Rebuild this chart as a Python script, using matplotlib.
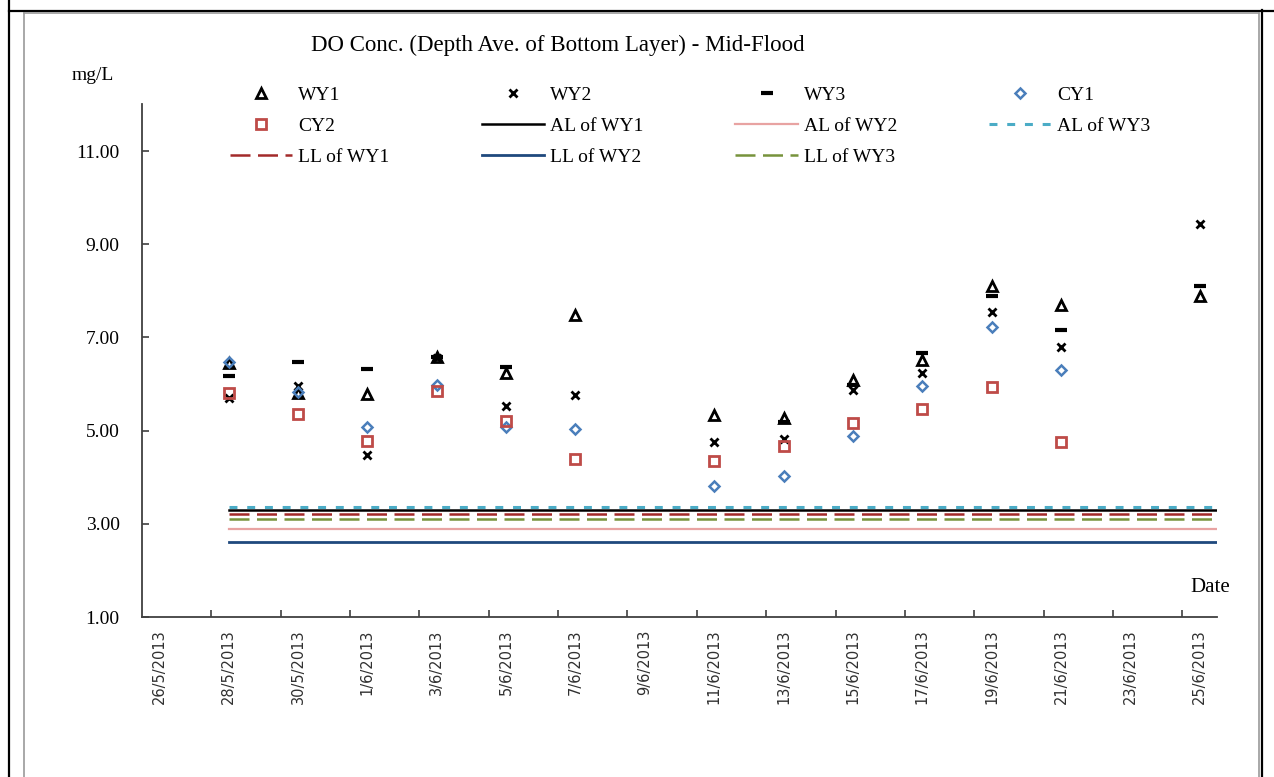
import matplotlib
matplotlib.use("Agg")
import matplotlib.pyplot as plt
import matplotlib.dates as mdates
from matplotlib.lines import Line2D
import numpy as np
import pandas as pd

# sampling dates and depth-averaged DO (mg/L) at each station
dates = ["2013-05-28", "2013-05-30", "2013-06-01", "2013-06-03", "2013-06-05",
         "2013-06-07", "2013-06-11", "2013-06-13", "2013-06-15", "2013-06-17",
         "2013-06-19", "2013-06-21", "2013-06-25"]
wy1 = [6.45, 5.80, 5.78, 6.58, 6.23, 7.48, 5.33, 5.26, 6.08, 6.52, 8.10, 7.69, 7.89]
wy2 = [5.70, 5.96, 4.48, 6.56, 5.53, 5.77, 4.75, 4.82, 5.88, 6.23, 7.55, 6.79, 9.43]
wy3 = [6.17, 6.48, 6.32, 6.58, 6.36, np.nan, np.nan, 5.18, 5.98, 6.66, 7.89, 7.16, 8.10]
cy1 = [6.48, 5.82, 5.08, 5.97, 5.08, 5.03, 3.81, 4.03, 4.89, 5.96, 7.22, 6.30, np.nan]
cy2 = [5.81, 5.36, 4.78, 5.86, 5.21, 4.39, 4.35, 4.67, 5.17, 5.47, 5.94, 4.76, np.nan]

# action / limit levels
level_dates = ["2013-05-28", "2013-06-26"]
al_wy1 = 3.30
al_wy2 = 2.88
al_wy3 = 3.35
ll_wy1 = 3.22
ll_wy2 = 2.62
ll_wy3 = 3.11

axis_start = "2013-05-26"
axis_end = "2013-06-25"

W, H = 1274, 777
SERIF = ["Liberation Serif", "DejaVu Serif"]

x = mdates.date2num(pd.to_datetime(dates))
xl = mdates.date2num(pd.to_datetime(level_dates))
x0 = mdates.date2num(pd.Timestamp(axis_start))
x1 = mdates.date2num(pd.Timestamp(axis_end))

fig = plt.figure(figsize=(W / 100, H / 100), dpi=100)
ax = fig.add_axes([142 / W, 1 - 617 / H, (1217 - 142) / W, (617 - 104.4) / H])

ax.plot(x, wy1, ls="none", marker="^", ms=7, mfc="none", mec="black", mew=2, label="WY1")
ax.plot(x, wy2, ls="none", marker="x", ms=6, mec="black", mew=2, label="WY2")
ax.plot(x, wy3, ls="none", marker="_", ms=9, mec="black", mew=3, label="WY3")
ax.plot(x, cy1, ls="none", marker="D", ms=5, mfc="none", mec="#4A7EBB", mew=1.8, label="CY1")
ax.plot(x, cy2, ls="none", marker="s", ms=7, mfc="none", mec="#BE4B48", mew=2, label="CY2")

ax.plot(xl, [al_wy1] * 2, color="black", lw=1.8, label="AL of WY1")
ax.plot(xl, [al_wy2] * 2, color="#E8A3A2", lw=1.6, label="AL of WY2")
ax.plot(xl, [al_wy3] * 2, color="#4BACC6", lw=2.2, dashes=(2.6, 3.2), label="AL of WY3")
ax.plot(xl, [ll_wy1] * 2, color="#A32A2A", lw=1.8, dashes=(8, 3), label="LL of WY1")
ax.plot(xl, [ll_wy2] * 2, color="#1F497D", lw=2.0, label="LL of WY2")
ax.plot(xl, [ll_wy3] * 2, color="#77933C", lw=1.8, dashes=(8, 3), label="LL of WY3")

ax.set_xlim(x0 - 0.5, x1 + 0.5)
ax.set_ylim(1, 12)

for side in ("top", "right"):
    ax.spines[side].set_visible(False)
for side in ("left", "bottom"):
    ax.spines[side].set_color("#404040")
    ax.spines[side].set_linewidth(1.3)

# y axis
ax.set_yticks(np.arange(1, 12, 2))
ax.set_yticklabels([f"{v:.2f}" for v in np.arange(1, 12, 2)], fontfamily=SERIF, fontsize=14)
ax.tick_params(axis="y", direction="in", length=5, width=1.2, color="#404040", pad=16)

# x axis: labels every 2 days, tick marks on slot boundaries
tick_days = pd.date_range(axis_start, axis_end, freq="2D")
tick_x = mdates.date2num(tick_days)
ax.set_xticks(tick_x)
ax.set_xticklabels([f"{d.day}/{d.month}/{d.year}" for d in tick_days],
                   rotation=90, fontsize=10.5, color="#303030")
ax.tick_params(axis="x", which="major", length=0, pad=9)
ax.set_xticks(tick_x[1:] - 0.5, minor=True)
ax.tick_params(axis="x", which="minor", direction="in", length=5, width=1.2, color="#404040")

# legend filled row by row, 4 columns
handles, labels = ax.get_legend_handles_labels()
ncol = 4
order = []
nrows = int(np.ceil(len(handles) / ncol))
for c in range(ncol):
    for r in range(nrows):
        i = r * ncol + c
        if i < len(handles):
            order.append(i)
leg = fig.legend([handles[i] for i in order], [labels[i] for i in order],
                 loc="upper left", bbox_to_anchor=(230 / W, 1 - 86 / H), ncol=ncol,
                 frameon=False, prop={"family": SERIF, "size": 14},
                 handlelength=3.2, handletextpad=0.3, columnspacing=4.75,
                 labelspacing=0.7, borderaxespad=0, borderpad=0)

fig.text(558 / W, 1 - 45 / H, "DO Conc. (Depth Ave. of Bottom Layer) - Mid-Flood",
         ha="center", va="center", fontfamily=SERIF, fontsize=16.5)
fig.text(72 / W, 1 - 76 / H, "mg/L", ha="left", va="center", fontfamily=SERIF, fontsize=14)
fig.text(1190 / W, 1 - 588 / H, "Date", ha="left", va="center", fontfamily=SERIF, fontsize=15)

# page frame around the chart
def hline(y, xa, xb, **kw):
    fig.add_artist(Line2D([xa / W, xb / W], [1 - y / H, 1 - y / H], **kw))

def vline(xp, ya, yb, **kw):
    fig.add_artist(Line2D([xp / W, xp / W], [1 - ya / H, 1 - yb / H], **kw))

vline(9, 0, H, color="black", lw=1.6)
hline(10.5, 9, W, color="black", lw=1.6)
vline(1261.5, 10, H, color="black", lw=1.6)
hline(13, 23.5, 1259, color="#9A9A9A", lw=1.2)
vline(23.5, 13, H, color="#9A9A9A", lw=1.2)
vline(1259, 13, H, color="#9A9A9A", lw=1.2)

fig.savefig("out.png", dpi=100)
